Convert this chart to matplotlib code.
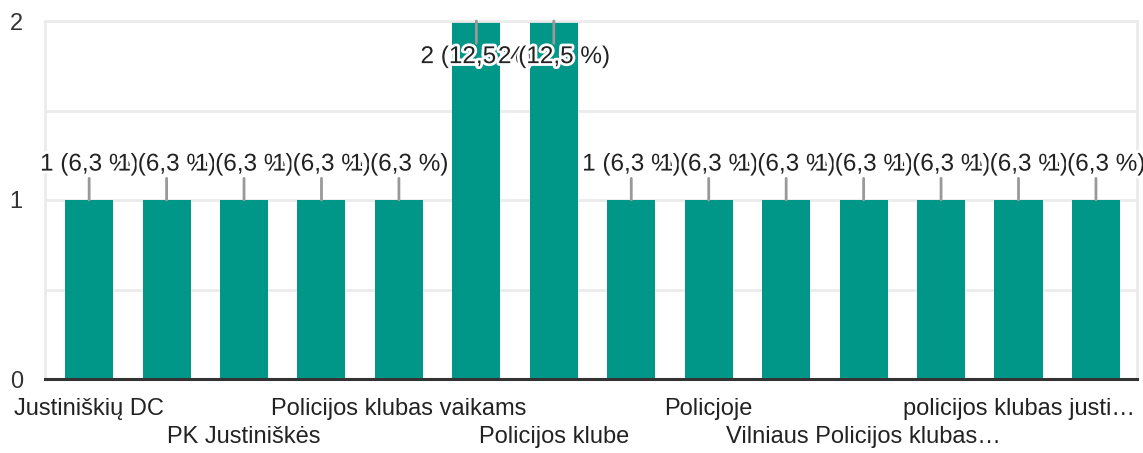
import matplotlib.pyplot as plt
import matplotlib.patheffects as pe

plt.rcParams["font.family"] = ["Liberation Sans", "DejaVu Sans"]

# only every second category name is visible in the reference
categories = [
    "Justiniškių DC", "", "PK Justiniškės", "", "Policijos klubas vaikams", "",
    "Policijos klube", "", "Policjoje", "", "Vilniaus Policijos klubas…", "",
    "policijos klubas justi…", "",
]
counts = [1, 1, 1, 1, 1, 2, 2, 1, 1, 1, 1, 1, 1, 1]
percents = ["6,3", "6,3", "6,3", "6,3", "6,3", "12,5", "12,5",
            "6,3", "6,3", "6,3", "6,3", "6,3", "6,3", "6,3"]
y_ticks = [0, 1, 2]

teal = "#009688"
text_col = "#222222"

fig = plt.figure(figsize=(11.43, 4.53), dpi=100)
ax = fig.add_axes([45 / 1143, 74 / 453, 1092 / 1143, 358 / 453])

x = list(range(len(counts)))
ax.bar(x, counts, width=0.62, color=teal, zorder=2)

ax.set_xlim(-0.57, len(counts) - 0.47)
ax.set_ylim(0, max(y_ticks))
ax.set_yticks(y_ticks)
ax.set_yticks([0.5, 1.5], minor=True)
ax.grid(axis="y", which="both", color="#ebebeb", lw=2, zorder=0)
ax.tick_params(axis="y", which="both", length=0, pad=16, labelsize=17, labelcolor="#333333")

shown = []
row = 0
for c in categories:
    if c:
        shown.append(c if row % 2 == 0 else "\n" + c)
        row += 1
    else:
        shown.append("")
ax.set_xticks(x)
ax.set_xticklabels(shown, fontsize=17, color=text_col, linespacing=1.35, va="top")
ax.tick_params(axis="x", length=0, pad=14)

for side in ["left", "right", "top"]:
    ax.spines[side].set_color("#ebebeb")
    ax.spines[side].set_linewidth(2)
ax.spines["bottom"].set_color("#333333")
ax.spines["bottom"].set_linewidth(2.2)
ax.spines["bottom"].set_zorder(3)

ymax = max(y_ticks)
for i, (v, p) in enumerate(zip(counts, percents)):
    off = -26 if v >= ymax else 25.5
    ax.annotate(
        f"{v} ({p} %)",
        xy=(i, v), xytext=(0, off), textcoords="offset points",
        ha="center", va="center", fontsize=17.5, color=text_col, zorder=4,
        path_effects=[pe.withStroke(linewidth=4, foreground="white")],
        arrowprops=dict(arrowstyle="-", color="#999999", lw=2,
                        shrinkA=0, shrinkB=0),
        annotation_clip=False,
    )

fig.savefig("out.png", dpi=100)
